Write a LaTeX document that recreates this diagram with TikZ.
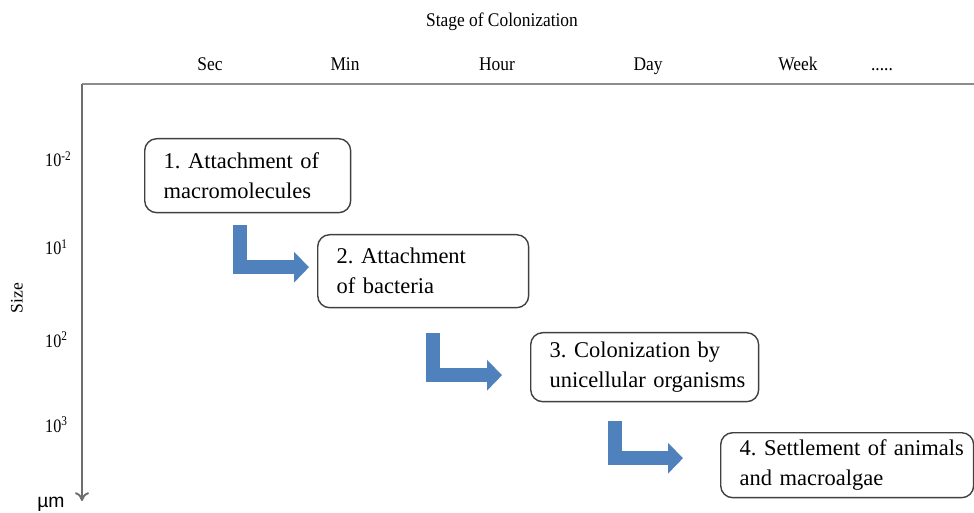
\documentclass[tikz,border=0pt]{standalone}
\usepackage{fontspec}
\setmainfont{Liberation Serif}
\newfontfamily\narrowfont[FakeStretch=0.9]{Liberation Serif}
\newfontfamily\tickfont[FakeStretch=0.85]{Liberation Serif}
\newfontfamily\arialfont{Liberation Sans}
\usetikzlibrary{arrows.meta,calc}
\frenchspacing

\definecolor{boxline}{HTML}{404040}
\definecolor{flowblue}{HTML}{4F81BD}
\definecolor{topgray}{HTML}{8C8C8C}
\definecolor{axisgray}{HTML}{6E6E6E}

\tikzset{
  stage/.style={draw=boxline, line width=0.8pt, rounded corners=0.24cm,
    anchor=north west, align=left, inner xsep=0.38cm,
    font=\fontsize{12.8}{17}\selectfont},
  flow/.style={draw=flowblue, line width=0.28cm,
    -{Triangle[length=0.3cm,width=0.6cm]}},
  timelabel/.style={anchor=base, font=\narrowfont\fontsize{11}{13}\selectfont},
  sizelabel/.style={anchor=base west, font=\tickfont\fontsize{10.8}{12}\selectfont},
}

\begin{document}
\begin{tikzpicture}[x=0.02cm, y=-0.02cm]
    \useasboundingbox (0,0) rectangle (974,513);

    % Assi
    \coordinate (origin) at (82,84);
    \coordinate (axisend) at (82,501);
    \draw[topgray, line width=1.7pt] (origin) -- (976,84);
    \draw[axisgray, line width=1.1pt, -{To[length=5pt,width=8pt]}] (origin) -- (axisend);

    % Tempo
    \node[timelabel] (title) at (502,27) {Stage of Colonization};
    \foreach \t/\x [count=\i] in {Sec/210, Min/345, Hour/497, Day/648, Week/798}
        \node[timelabel] (time\i) at (\x,71) {\t};
    \node[timelabel] (time6) at (882,71) {.....};

    % Dimensioni
    \foreach \e/\y [count=\i] in {-2/167, 1/255, 2/347, 3/432}
        \node[sizelabel] (size\i) at (39,\y) {10\textsuperscript{\e}};
    \node[anchor=base west, inner sep=0pt, font=\arialfont\fontsize{11}{12}\selectfont] (unit) at (37,507) {µm};
    \node[rotate=90, font=\fontsize{10}{11}\selectfont] (sizeaxis) at (17,298) {Size};

    % Fasi
    \node[stage, text width=3.36cm, minimum height=1.48cm] (b1) at (144,138)
        {\mbox{1. Attachment of}\\\mbox{macromolecules}};
    \node[stage, text width=3.46cm, minimum height=1.46cm] (b2) at (317,234)
        {\mbox{2. Attachment}\\\mbox{of bacteria}};
    \node[stage, text width=3.8cm, minimum height=1.38cm] (b3) at (530,332)
        {\mbox{3. Colonization by}\\\mbox{unicellular organisms}};
    \node[stage, text width=4.3cm, minimum height=1.3cm] (b4) at (720,432)
        {\mbox{4. Settlement of animals}\\\mbox{and macroalgae}};

    % Frecce
    \draw[flow] ($(b1.south)+(-8,12)$) |- ($(b2.west)+(-8,-4)$);
    \draw[flow] ($(b2.south)+(10,25)$) |- ($(b3.west)+(-28,8)$);
    \draw[flow] ($(b3.south)+(-29.5,19)$) |- ($(b4.west)+(-37,-7)$);
\end{tikzpicture}
\end{document}
